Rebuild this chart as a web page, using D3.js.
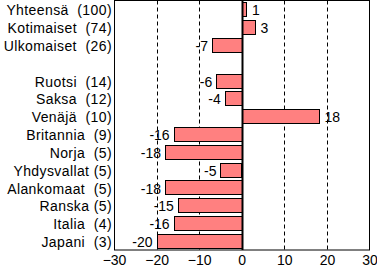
<!DOCTYPE html>
<html>
<head>
<meta charset="utf-8">
<script src="https://cdn.jsdelivr.net/npm/d3@7"></script>
<style>
  body { margin: 0; background: #fff; }
  text { font-family: Arial, "Liberation Sans", sans-serif; font-size: 14px; fill: #000; }
</style>
</head>
<body>
<div id="chart"></div>
<script>
// rows top to bottom, "" is the empty spacer row
const categories = ["Yhteensä  (100)", "Kotimaiset  (74)", "Ulkomaiset  (26)", "",
  "Ruotsi  (14)", "Saksa  (12)", "Venäjä  (10)", "Britannia  (9)", "Norja  (5)",
  "Yhdysvallat (5)", "Alankomaat  (5)", "Ranska (5)", "Italia  (4)", "Japani  (3)"];
const values = [1, 3, -7, null, -6, -4, 18, -16, -18, -5, -18, -15, -16, -20];
const ticks = [-30, -20, -10, 0, 10, 20, 30];
const gridTicks = [-20, -10, 10, 20];

const width = 377, height = 271;
const margin = { top: 0.5, right: 7.5, bottom: 21, left: 114 };

const svg = d3.select("#chart").append("svg")
  .attr("width", width)
  .attr("height", height);

const x = d3.scaleLinear().domain([-30, 30]).range([margin.left, width - margin.right]);
const y = d3.scaleBand().domain(d3.range(categories.length))
  .range([margin.top, height - margin.bottom]).paddingInner(0.2).paddingOuter(0.1);

// dashed gridlines
svg.selectAll("line.grid").data(gridTicks).enter().append("line")
  .attr("class", "grid")
  .attr("x1", (d) => Math.round(x(d)) + 0.5)
  .attr("x2", (d) => Math.round(x(d)) + 0.5)
  .attr("y1", margin.top)
  .attr("y2", height - margin.bottom)
  .attr("stroke", "#000")
  .attr("stroke-dasharray", "4,3");

const rows = categories.map((c, i) => ({ i, label: c, value: values[i] }));
const bars = rows.filter((d) => d.value !== null);

svg.selectAll("rect.bar").data(bars).enter().append("rect")
  .attr("class", "bar")
  .attr("x", (d) => Math.round(x(Math.min(0, d.value))) + 0.5)
  .attr("y", (d) => Math.round(y(d.i)) + 0.5)
  .attr("width", (d) => Math.round(Math.abs(x(d.value) - x(0))))
  .attr("height", Math.round(y.bandwidth()))
  .attr("fill", "#ff8080")
  .attr("stroke", "#000")
  .attr("stroke-width", 1);

// value labels next to the bar ends
svg.selectAll("text.val").data(bars).enter().append("text")
  .attr("class", "val")
  .attr("x", (d) => x(d.value) + (d.value < 0 ? -4 : 6))
  .attr("y", (d) => y(d.i) + y.bandwidth() / 2 + 1)
  .attr("dy", "0.35em")
  .attr("text-anchor", (d) => (d.value < 0 ? "end" : "start"))
  .text((d) => d.value);

// category labels
svg.selectAll("text.cat").data(rows.filter((d) => d.label)).enter().append("text")
  .attr("class", "cat")
  .attr("x", margin.left - 2)
  .attr("y", (d) => y(d.i) + y.bandwidth() / 2 + 1)
  .attr("dy", "0.35em")
  .attr("text-anchor", "end")
  .style("white-space", "pre")
  .style("letter-spacing", "0.4px")
  .text((d) => d.label);

// frame
svg.append("rect")
  .attr("x", margin.left + 0.5)
  .attr("y", margin.top)
  .attr("width", width - margin.right - margin.left - 0.5)
  .attr("height", height - margin.bottom - margin.top)
  .attr("fill", "none")
  .attr("stroke", "#000");

// zero line
svg.append("line")
  .attr("x1", Math.round(x(0)) + 0.5)
  .attr("x2", Math.round(x(0)) + 0.5)
  .attr("y1", margin.top)
  .attr("y2", height - margin.bottom)
  .attr("stroke", "#000")
  .attr("stroke-width", 2);

// x axis labels
const xAxis = d3.axisBottom(x).tickValues(ticks).tickSize(0).tickPadding(5);
const ax = svg.append("g")
  .attr("transform", `translate(0,${height - margin.bottom})`)
  .call(xAxis);
ax.select(".domain").remove();
ax.selectAll("text").style("font-size", "14px").style("font-family", "Arial, 'Liberation Sans', sans-serif");
</script>
</body>
</html>
